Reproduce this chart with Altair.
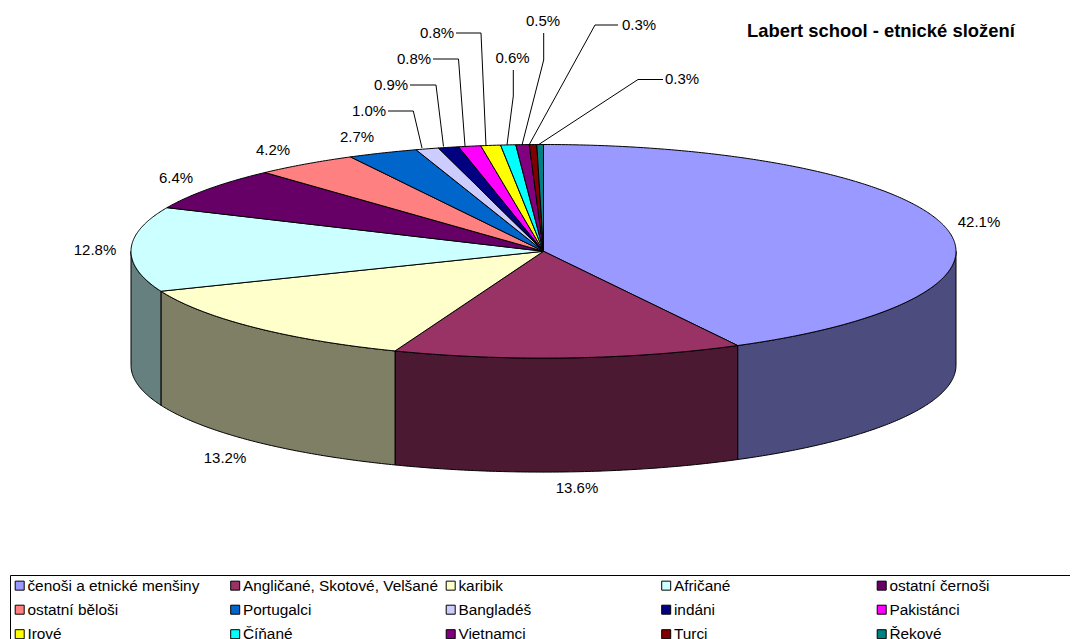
import math
import numpy as np
import pandas as pd
import altair as alt

names = ["čenoši a etnické menšiny", "Angličané, Skotové, Velšané", "karibik", "Afričané",
         "ostatní černoši", "ostatní běloši", "Portugalci", "Bangladéš", "indáni", "Pakistánci",
         "Irové", "Číňané", "Vietnamci", "Turci", "Řekové"]
# percentages as printed on the labels
values = [42.1, 13.6, 13.2, 12.8, 6.4, 4.2, 2.7, 1.0, 0.9, 0.8, 0.8, 0.6, 0.5, 0.3, 0.3]
# slice sizes as measured on the picture (they sum to 100, the printed labels do not)
shares = [42.2, 13.66, 13.04, 12.8, 6.5, 4.05, 2.75, 0.9, 0.8, 0.87, 0.77, 0.59, 0.52, 0.29, 0.26]
colors = ["#9999FF", "#993366", "#FFFFCC", "#CCFFFF", "#660066", "#FF8080", "#0066CC", "#CCCCFF",
          "#000080", "#FF00FF", "#FFFF00", "#00FFFF", "#800080", "#800000", "#008080"]
title_text = "Labert school - etnické složení"

# layout (page pixels of the picture)
W, H = 1062, 631
CX, CY, RX, RY, DEPTH = 543.5, 251.3, 412.5, 106.8, 114.0
label_pos = [(979, 222), (577, 488), (225, 458), (95, 250), (176, 178), (273, 150), (357, 137),
             (369, 111), (391, 85), (414, 59), (437, 33), (512.5, 58), (543, 21), (639, 25), (682, 79)]
leader_paths = {7: [(422, 148), (413.3, 111), (388, 111)], 8: [(443.5, 146.5), (436, 85), (410, 85)],
                9: [(465, 146), (458.5, 59), (433, 59)], 10: [(486, 146), (481, 33), (456, 33)],
                11: [(507, 145), (513.3, 96), (513.3, 70)], 12: [(522, 145), (543.7, 60), (543.7, 33)],
                13: [(529, 145), (595, 25), (618, 25)], 14: [(538, 145), (638, 79.5), (663, 79.5)]}
legend_frame = [(10.5, 639), (10.5, 575.5), (1070, 575.5)]


def ux(px):
    return (px - CX) / RX


def uy(py):
    return (CY - py) / RY


def edge(a):
    return math.sin(a), math.cos(a)


bounds = np.cumsum([0] + shares) / sum(shares) * 2 * math.pi
top_rows, side_rows, lead_rows, text_rows = [], [], [], []
d = DEPTH / RY
for k, n in enumerate(names):
    a0, a1 = bounds[k], bounds[k + 1]
    cnt = max(3, int((a1 - a0) * 180 / math.pi) * 2 + 2)
    pts = [(0.0, 0.0)] + [edge(a) for a in np.linspace(a0, a1, cnt)] + [(0.0, 0.0)]
    for i, (x, y) in enumerate(pts):
        top_rows.append({"name": n, "i": i, "x": x, "y": y})
    b0, b1 = max(a0, math.pi / 2), min(a1, 1.5 * math.pi)
    if b1 > b0:
        c = int((b1 - b0) * 180 / math.pi) * 2 + 2
        arc = [edge(a) for a in np.linspace(b0, b1, c)]
        poly = arc + [(x, y - d) for x, y in reversed(arc)] + [arc[0]]
        r, g, b = [int(colors[k][j:j + 2], 16) // 2 for j in (1, 3, 5)]
        shade = f"#{r:02x}{g:02x}{b:02x}"
        for i, (x, y) in enumerate(poly):
            side_rows.append({"name": n, "shade": shade, "i": i, "x": x, "y": y})
    lx, ly = label_pos[k]
    text_rows.append({"x": ux(lx), "y": uy(ly), "label": f"{values[k]:.1f}%"})
    if k in leader_paths:
        for i, (a, b) in enumerate(leader_paths[k]):
            lead_rows.append({"k": k, "i": i, "x": ux(a), "y": uy(b)})
for i, (a, b) in enumerate(legend_frame):
    lead_rows.append({"k": -1, "i": i, "x": ux(a), "y": uy(b)})

x_scale = alt.Scale(domain=[ux(8), ux(8 + W)], nice=False, zero=False)
y_scale = alt.Scale(domain=[uy(8 + H), uy(8)], nice=False, zero=False)
X = alt.X("x:Q", scale=x_scale, axis=None)
Y = alt.Y("y:Q", scale=y_scale, axis=None)

sides = alt.Chart(pd.DataFrame(side_rows)).mark_line(stroke="black", strokeWidth=1, strokeJoin="round").encode(
    x=X, y=Y, order="i:Q", detail="name:N", fill=alt.Fill("shade:N", scale=None))

legend = alt.Legend(title=None, orient="none", legendX=2, legendY=567.5, columns=5, gridAlign="all",
                    direction="horizontal",
                    columnPadding=4.5, rowPadding=7.5, padding=2, symbolType="square", symbolSize=81,
                    symbolStrokeColor="black", symbolStrokeWidth=1, symbolOpacity=1,
                    labelFont="Liberation Sans", labelFontSize=15.4, labelColor="black", labelOffset=0,
                    labelLimit=300)

tops = alt.Chart(pd.DataFrame(top_rows)).mark_line(stroke="black", strokeWidth=1, strokeJoin="round").encode(
    x=X, y=Y, order="i:Q",
    fill=alt.Fill("name:N", sort=names, scale=alt.Scale(domain=names, range=colors), legend=legend))

leaders = alt.Chart(pd.DataFrame(lead_rows)).mark_line(stroke="black", strokeWidth=1).encode(
    x=X, y=Y, order="i:Q", detail="k:N")

labels = alt.Chart(pd.DataFrame(text_rows)).mark_text(
    font="Liberation Sans", fontSize=15, color="black", align="center", baseline="middle").encode(
    x=X, y=Y, text="label:N")

chart = alt.layer(sides, tops, leaders, labels).resolve_scale(fill="independent").properties(
    width=W, height=H, padding=0, autosize=alt.AutoSizeParams(type="none"),
    title=alt.TitleParams(title_text, font="Liberation Sans", fontSize=18.4, fontWeight="bold", color="black",
                          anchor="start", orient="top", dx=739, dy=41, offset=0, baseline="middle", frame="group")
).configure_view(stroke=None)

chart.save("out.html", embed_options={"renderer": "svg", "actions": False})
